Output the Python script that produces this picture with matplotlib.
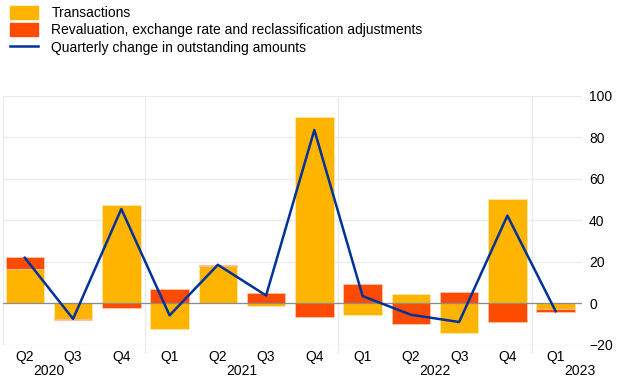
import numpy as np
import matplotlib.pyplot as plt
from matplotlib.patches import Patch
from matplotlib.lines import Line2D

plt.rcParams['font.family'] = ['Liberation Sans', 'DejaVu Sans']

# data (EUR billions)
quarters = ["Q2", "Q3", "Q4", "Q1", "Q2", "Q3", "Q4", "Q1", "Q2", "Q3", "Q4", "Q1"]
years = ["2020", "2021", "2022", "2023"]
transactions = [16.5, -7.4, 47.3, -12.5, 18.0, -1.3, 89.7, -5.8, 4.5, -14.4, 50.5, -2.6]
revaluation = [6.0, -0.5, -2.2, 6.7, 0.7, 5.0, -6.7, 9.5, -10.0, 5.3, -8.8, -1.6]
quarterly_change = [22.0, -7.5, 45.5, -5.8, 18.6, 3.8, 83.6, 3.5, -5.5, -9.0, 42.3, -3.8]

c_trans = "#ffb400"
c_reval = "#ff4b00"
c_line = "#003299"

x = np.arange(len(quarters))
trans = np.array(transactions)
reval = np.array(revaluation)

fig = plt.figure(figsize=(6.2, 3.87), dpi=100)
ax = fig.add_axes([0.005, 0.109, 0.934, 0.643])

# grid
for v in range(-20, 101, 20):
    ax.axhline(v, color="#ebebeb", lw=1, zorder=0)
for b in [2.5, 6.5, 10.5]:
    ax.plot([b, b], [-23.5, 100], color="#ebebeb", lw=1, zorder=0, clip_on=False)

# stacked bars: positives and negatives stacked separately
w = 0.8
ax.bar(x, trans, w, color=c_trans, edgecolor="#ffe9b0", lw=0.5, zorder=2)
base = np.where((reval >= 0) == (trans >= 0), trans, 0)
ax.bar(x, reval, w, bottom=base, color=c_reval, edgecolor="#ffc9b0", lw=0.5, zorder=2)

ax.axhline(0, color="#8c8c8c", lw=0.9, zorder=3)
ax.plot(x, quarterly_change, color=c_line, lw=1.8, zorder=4)

ax.set_xlim(-0.45, 11.55)
ax.set_ylim(-20, 100)
ax.yaxis.tick_right()
ax.set_yticks(range(-20, 101, 20))
ax.tick_params(axis="y", length=0, pad=5, labelsize=10)
ax.set_xticks(x)
ax.set_xticklabels(quarters)
ax.tick_params(axis="x", length=0, pad=4, labelsize=10)
for s in ax.spines.values():
    s.set_visible(False)
ax.plot([11.55, 11.55], [-20, 100], color="#ebebeb", lw=1, zorder=0)
ax.plot([-0.45, -0.45], [-20, 100], color="#ebebeb", lw=1, zorder=0)

for yr, pos in zip(years, [0.5, 4.5, 8.5, 11.5]):
    ax.text(pos, -32.5, yr, ha="center", va="center", fontsize=10)

handles = [
    Patch(color=c_trans),
    Patch(color=c_reval),
    Line2D([0], [0], color=c_line, lw=1.8),
]
labels = ["Transactions",
          "Revaluation, exchange rate and reclassification adjustments",
          "Quarterly change in outstanding amounts"]
fig.legend(handles, labels, loc="upper left", bbox_to_anchor=(0.0, 1.01),
           frameon=False, fontsize=10, handlelength=2.0, handleheight=1.1,
           labelspacing=0.2, handletextpad=1.0, borderaxespad=0.3)

fig.savefig("out.png", dpi=100)
